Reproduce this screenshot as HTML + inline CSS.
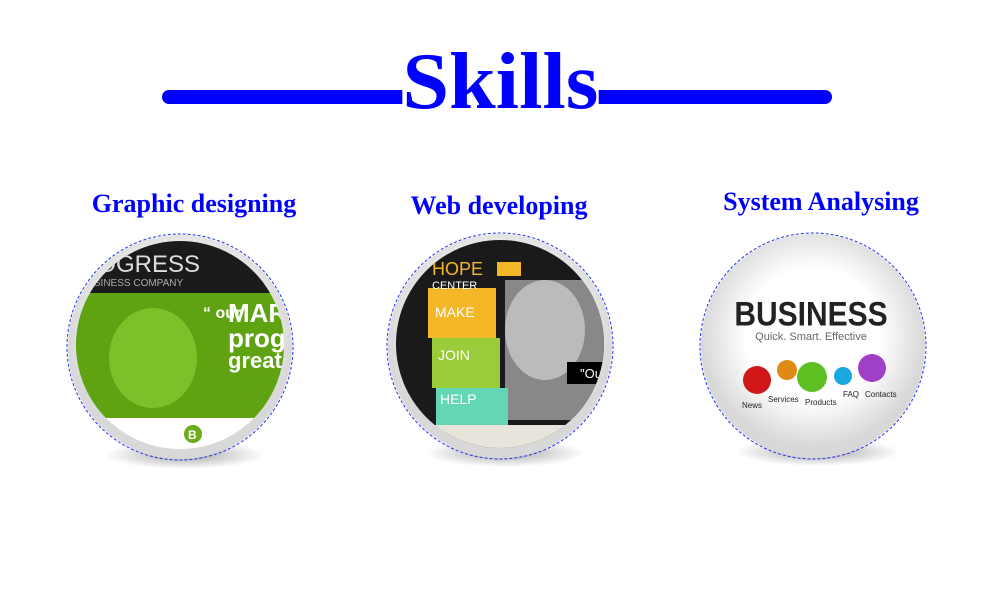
<!DOCTYPE html>
<html><head><meta charset="utf-8"><style>
body{margin:0;width:1000px;height:600px;background:#fff;overflow:hidden;position:relative;font-family:"Liberation Serif",serif}
.line{position:absolute;left:162px;top:90px;width:670px;height:14px;border-radius:7px;background:#0000ff}
.title{position:absolute;left:0;width:1000px;top:18px;text-align:center;color:#0000ff;font-weight:bold;font-size:80px;line-height:100px}
.title span{background:#fff;padding:0;display:inline-block;line-height:60px;position:relative;top:14px;transform:scaleX(1.05)}
.h{position:absolute;color:#0000ff;font-weight:bold;font-size:26px;width:300px;text-align:center;line-height:30px}
svg{position:absolute;left:0;top:0}
</style></head><body>
<div class="line"></div>
<div class="title"><span>Skills</span></div>
<div class="h" style="left:44px;top:189px">Graphic designing</div>
<div class="h" style="left:349px;top:191px">Web developing</div>
<div class="h" style="left:671px;top:187px">System Analysing</div>
<svg width="1000" height="600">
<defs>
<clipPath id="c1"><circle cx="180" cy="345" r="104"/></clipPath>
<clipPath id="c2"><circle cx="500" cy="344" r="104"/></clipPath>
<radialGradient id="sh"><stop offset="0" stop-color="#000" stop-opacity=".35"/><stop offset="1" stop-color="#000" stop-opacity="0"/></radialGradient>
<radialGradient id="wg" cx=".5" cy=".45"><stop offset=".6" stop-color="#fff"/><stop offset="1" stop-color="#d8d8d8"/></radialGradient>
</defs>
<g>
<ellipse cx="185" cy="455" rx="80" ry="14" fill="url(#sh)"/>
<circle cx="180" cy="347" r="112" fill="url(#wg)"/>
<g clip-path="url(#c1)">
<rect x="70" y="235" width="230" height="58" fill="#1b1b1b"/>
<rect x="70" y="293" width="230" height="125" fill="#5fa312"/>
<rect x="70" y="418" width="230" height="40" fill="#fff"/>
<ellipse cx="153" cy="358" rx="44" ry="50" fill="#7cc02a"/>
<text x="80" y="272" fill="#ddd" font-family="Liberation Sans" font-size="24">ROGRESS</text>
<text x="80" y="286" fill="#aaa" font-family="Liberation Sans" font-size="10">BUSINESS COMPANY</text>
<text x="203" y="318" fill="#fff" font-family="Liberation Sans" font-size="16" font-weight="bold">“ our</text>
<text x="228" y="322" fill="#fff" font-family="Liberation Sans" font-size="26" font-weight="bold">MARK</text>
<text x="228" y="347" fill="#fff" font-family="Liberation Sans" font-size="26" font-weight="bold">progr</text>
<text x="228" y="368" fill="#fff" font-family="Liberation Sans" font-size="22" font-weight="bold">great P</text>
<circle cx="193" cy="434" r="9" fill="#6aac1b"/>
<text x="188" y="439" fill="#fff" font-family="Liberation Sans" font-size="12" font-weight="bold">B</text>
</g>
<circle cx="180" cy="347" r="113" fill="none" stroke="#2233ee" stroke-width="1" stroke-dasharray="3,2"/>
</g>
<g>
<ellipse cx="505" cy="453" rx="80" ry="14" fill="url(#sh)"/>
<circle cx="500" cy="346" r="112" fill="url(#wg)"/>
<g clip-path="url(#c2)">
<rect x="390" y="235" width="230" height="220" fill="#1a1a1a"/>
<rect x="505" y="280" width="115" height="140" fill="#888"/>
<ellipse cx="545" cy="330" rx="40" ry="50" fill="#bbb"/>
<rect x="428" y="288" width="68" height="50" fill="#f4b728"/>
<rect x="432" y="338" width="68" height="50" fill="#9acc3a"/>
<rect x="436" y="388" width="72" height="44" fill="#63d6b6"/>
<rect x="390" y="425" width="230" height="30" fill="#e8e4dc"/>
<rect x="497" y="262" width="24" height="14" fill="#f4b728"/>
<rect x="567" y="362" width="50" height="22" fill="#000"/>
<text x="432" y="275" fill="#f4b728" font-family="Liberation Sans" font-size="18">HOPE</text>
<text x="432" y="289" fill="#fff" font-family="Liberation Sans" font-size="11">CENTER</text>
<text x="435" y="317" fill="#fff" font-family="Liberation Sans" font-size="14">MAKE</text>
<text x="438" y="360" fill="#fff" font-family="Liberation Sans" font-size="14">JOIN</text>
<text x="440" y="404" fill="#fff" font-family="Liberation Sans" font-size="14">HELP</text>
<text x="580" y="378" fill="#fff" font-family="Liberation Sans" font-size="13">"Ou</text>
</g>
<circle cx="500" cy="346" r="113" fill="none" stroke="#2233ee" stroke-width="1" stroke-dasharray="3,2"/>
</g>
<g>
<ellipse cx="818" cy="452" rx="82" ry="14" fill="url(#sh)"/>
<circle cx="813" cy="346" r="112" fill="url(#wg)"/>
<text x="811" y="326" text-anchor="middle" fill="#222" font-family="Liberation Sans" font-size="30" font-weight="bold" transform="scale(1,1.15) translate(0,-43)">BUSINESS</text>
<text x="811" y="340" text-anchor="middle" fill="#666" font-family="Liberation Sans" font-size="11">Quick. Smart. Effective</text>
<circle cx="757" cy="380" r="14" fill="#d01818"/>
<circle cx="787" cy="370" r="10" fill="#e08a16"/>
<circle cx="812" cy="377" r="15" fill="#5cbf22"/>
<circle cx="843" cy="376" r="9" fill="#1aa8e0"/>
<circle cx="872" cy="368" r="14" fill="#a040c8"/>
<text x="742" y="408" fill="#222" font-family="Liberation Sans" font-size="8">News</text>
<text x="768" y="402" fill="#222" font-family="Liberation Sans" font-size="8">Services</text>
<text x="805" y="405" fill="#222" font-family="Liberation Sans" font-size="8">Products</text>
<text x="843" y="397" fill="#222" font-family="Liberation Sans" font-size="8">FAQ</text>
<text x="865" y="397" fill="#222" font-family="Liberation Sans" font-size="8">Contacts</text>
<circle cx="813" cy="346" r="113" fill="none" stroke="#2233ee" stroke-width="1" stroke-dasharray="3,2"/>
</g>
</svg>
</body></html>
